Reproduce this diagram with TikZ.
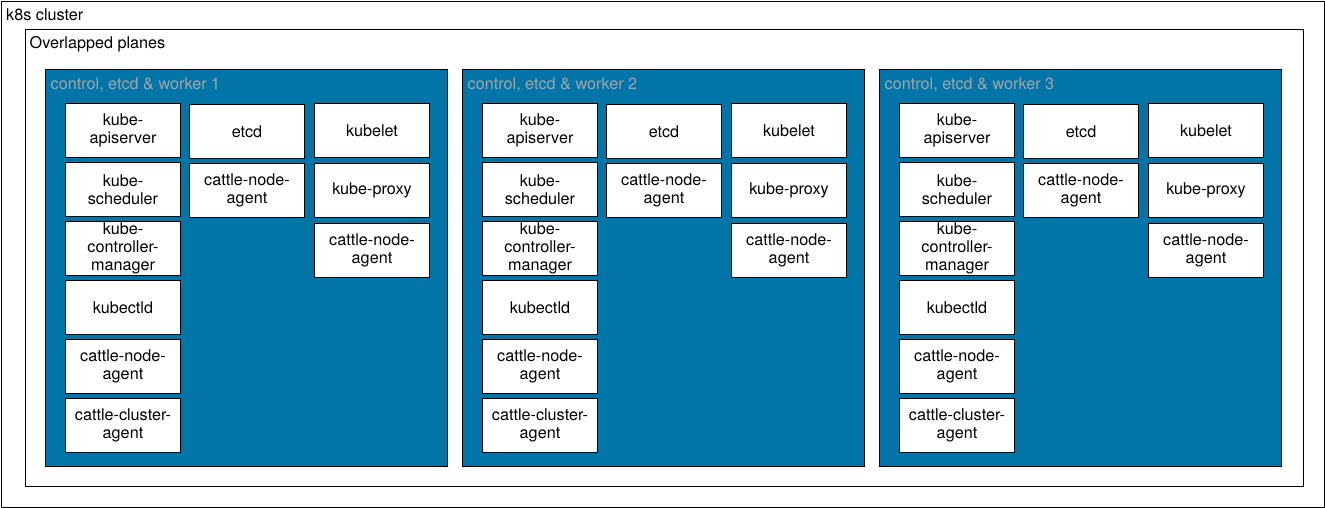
\documentclass[tikz,border=0pt]{standalone}
\usepackage{fontspec}
\setmainfont{TeX Gyre Heros}
\definecolor{hostblue}{RGB}{2,117,168}
\definecolor{labelgray}{RGB}{165,165,165}
\newcommand{\bw}{115pt}
\newcommand{\bh}{54pt}

\begin{document}
\begin{tikzpicture}[x=1pt, y=-1pt, font=\fontsize{16.2}{18.2}\selectfont,
    frame/.style={draw, rectangle, anchor=north west, line width=1pt, inner sep=0pt},
    host/.style={frame, fill=hostblue, minimum width=402pt, minimum height=397pt},
    hostlabel/.style={anchor=base west, text=labelgray, inner sep=0pt},
    toplabel/.style={anchor=base west, inner sep=0pt},
    comp/.style={frame, fill=white, minimum width=\bw, minimum height=\bh, align=center}]
    \useasboundingbox (0,0) rectangle (1325,508);

    % Outer frames
    \node[frame, minimum width=1323pt, minimum height=506pt] (cluster) at (1,1) {};
    \node[toplabel] (cluster-label) at (6,21) {k8s cluster};
    \node[frame, minimum width=1278pt, minimum height=456pt] (planes) at (24.5,29.5) {};
    \node[toplabel] (planes-label) at (29.5,49) {Overlapped planes};

    % First node
    \begin{scope}[shift={(45,69)}]
    \node[host] (host-1) at (0,0) {};
    \node[hostlabel] (hostlabel-1) at (5.5,21) {control, etcd \& worker 1};
    \node[comp] (api-1) at (20,34) {kube-\\apiserver};
    \node[comp] (sched-1) at (20,93) {kube-\\scheduler};
    \node[comp] (ctrl-1) at (20,152) {kube-\\controller-\\manager};
    \node[comp] (kubectld-1) at (20,211) {kubectld};
    \node[comp] (cna-1-1) at (20,270) {cattle-node-\\agent};
    \node[comp] (cca-1) at (20,329) {cattle-cluster-\\agent};
    \node[comp] (etcd-1) at (144,35) {etcd};
    \node[comp] (cna-1-2) at (144,94) {cattle-node-\\agent};
    \node[comp] (kubelet-1) at (269,34) {kubelet};
    \node[comp] (proxy-1) at (269,94) {kube-proxy};
    \node[comp] (cna-1-3) at (269,154) {cattle-node-\\agent};
    \end{scope}

    % Second node
    \begin{scope}[shift={(462,69)}]
    \node[host] (host-2) at (0,0) {};
    \node[hostlabel] (hostlabel-2) at (5.5,21) {control, etcd \& worker 2};
    \node[comp] (api-2) at (20,34) {kube-\\apiserver};
    \node[comp] (sched-2) at (20,93) {kube-\\scheduler};
    \node[comp] (ctrl-2) at (20,152) {kube-\\controller-\\manager};
    \node[comp] (kubectld-2) at (20,211) {kubectld};
    \node[comp] (cna-2-1) at (20,270) {cattle-node-\\agent};
    \node[comp] (cca-2) at (20,329) {cattle-cluster-\\agent};
    \node[comp] (etcd-2) at (144,35) {etcd};
    \node[comp] (cna-2-2) at (144,94) {cattle-node-\\agent};
    \node[comp] (kubelet-2) at (269,34) {kubelet};
    \node[comp] (proxy-2) at (269,94) {kube-proxy};
    \node[comp] (cna-2-3) at (269,154) {cattle-node-\\agent};
    \end{scope}

    % Third node
    \begin{scope}[shift={(879,69)}]
    \node[host] (host-3) at (0,0) {};
    \node[hostlabel] (hostlabel-3) at (5.5,21) {control, etcd \& worker 3};
    \node[comp] (api-3) at (20,34) {kube-\\apiserver};
    \node[comp] (sched-3) at (20,93) {kube-\\scheduler};
    \node[comp] (ctrl-3) at (20,152) {kube-\\controller-\\manager};
    \node[comp] (kubectld-3) at (20,211) {kubectld};
    \node[comp] (cna-3-1) at (20,270) {cattle-node-\\agent};
    \node[comp] (cca-3) at (20,329) {cattle-cluster-\\agent};
    \node[comp] (etcd-3) at (144,35) {etcd};
    \node[comp] (cna-3-2) at (144,94) {cattle-node-\\agent};
    \node[comp] (kubelet-3) at (269,34) {kubelet};
    \node[comp] (proxy-3) at (269,94) {kube-proxy};
    \node[comp] (cna-3-3) at (269,154) {cattle-node-\\agent};
    \end{scope}

\end{tikzpicture}
\end{document}
